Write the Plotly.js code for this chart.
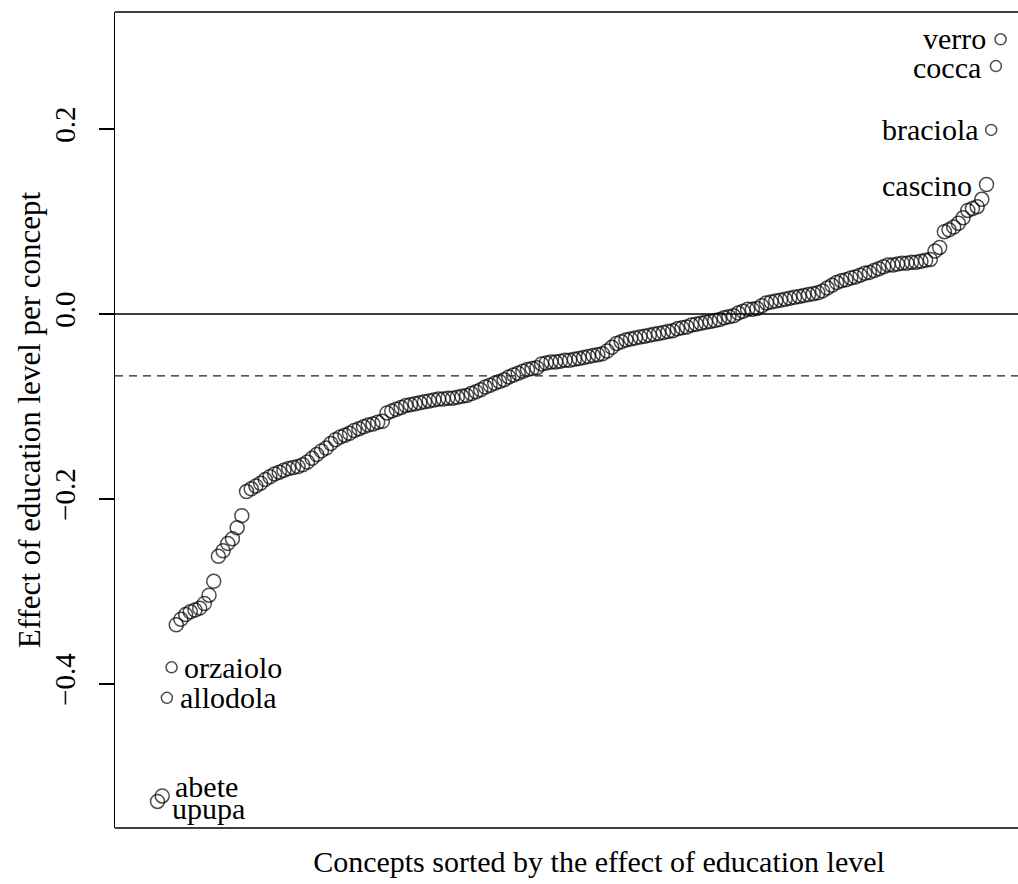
<!DOCTYPE html>
<html>
<head>
<meta charset="utf-8">
<script src="https://cdn.plot.ly/plotly-3.0.1.min.js"></script>
<style>
html,body{margin:0;padding:0;overflow:hidden;background:#fff;}
#chart{width:1083px;height:884px;}
</style>
</head>
<body>
<div id="chart"></div>
<script>
// Effect of education level per concept, sorted ascending
const effects = [
-0.527,-0.521,-0.415,-0.382,-0.336,-0.330,-0.325,-0.322,-0.320,-0.318,
-0.313,-0.304,-0.289,-0.262,-0.256,-0.248,-0.243,-0.231,-0.218,-0.192,
-0.189,-0.186,-0.183,-0.179,-0.176,-0.173,-0.171,-0.169,-0.167,-0.166,
-0.165,-0.163,-0.160,-0.156,-0.152,-0.148,-0.145,-0.140,-0.136,-0.133,
-0.131,-0.129,-0.126,-0.124,-0.122,-0.120,-0.119,-0.117,-0.116,-0.107,
-0.105,-0.103,-0.101,-0.099,-0.098,-0.097,-0.096,-0.095,-0.094,-0.093,
-0.092,-0.092,-0.091,-0.091,-0.090,-0.089,-0.088,-0.086,-0.084,-0.082,
-0.079,-0.077,-0.075,-0.073,-0.071,-0.068,-0.066,-0.064,-0.062,-0.060,
-0.059,-0.058,-0.054,-0.053,-0.052,-0.052,-0.051,-0.050,-0.050,-0.049,
-0.048,-0.047,-0.046,-0.045,-0.044,-0.043,-0.040,-0.036,-0.032,-0.030,
-0.028,-0.027,-0.026,-0.025,-0.024,-0.023,-0.022,-0.021,-0.020,-0.019,
-0.018,-0.016,-0.015,-0.014,-0.012,-0.011,-0.010,-0.009,-0.008,-0.007,
-0.006,-0.004,-0.003,-0.002,0.001,0.003,0.005,0.005,0.006,0.009,
0.012,0.013,0.014,0.015,0.016,0.017,0.018,0.019,0.020,0.021,
0.022,0.023,0.025,0.028,0.031,0.034,0.036,0.037,0.039,0.040,
0.042,0.044,0.045,0.047,0.049,0.051,0.053,0.053,0.054,0.055,
0.055,0.056,0.056,0.057,0.058,0.059,0.068,0.072,0.089,0.091,
0.094,0.098,0.104,0.112,0.114,0.116,0.124,0.140,0.199,0.268,
0.297
];
const ranks = effects.map((v, i) => i + 1);

const labelNames = ['upupa','abete','allodola','orzaiolo','cascino','braciola','cocca','verro'];
const labelRanks = [1, 2, 3, 4, 178, 179, 180, 181];
const smallRanks = [3, 4, 179, 180, 181];
const meanEffect = -0.067;
const yTicks = [-0.4, -0.2, 0.0, 0.2];
const yTickText = ['\u22120.4', '\u22120.2', '0.0', '0.2'];

// label styling (offsets in px)
const labelSide = ['left','left','left','left','right','right','right','right'];
const labelXShift = [13, 12, 12, 11, -14, -11, -14, -14];
const labelYShift = [-7, 9, 0, 0, -1, 0, -1, 1];

const serif = 'Liberation Serif, Times New Roman, serif';

const sizes = ranks.map(r => smallRanks.includes(r) ? 11 : 14);

const trace = {
  x: ranks, y: effects, type: 'scatter', mode: 'markers',
  marker: {symbol: 'circle-open', size: sizes, color: '#000', line: {color: '#000', width: 1.5}},
  hoverinfo: 'skip'
};

const annotations = labelNames.map((name, k) => {
  const r = labelRanks[k];
  const left = labelSide[k] === 'left';
  return {
    x: r, y: effects[r - 1], xref: 'x', yref: 'y', text: name, showarrow: false,
    xanchor: left ? 'left' : 'right', yanchor: 'middle',
    xshift: labelXShift[k], yshift: labelYShift[k], borderpad: 0,
    font: {family: serif, size: 30, color: '#000'}
  };
});

const layout = {
  width: 1083, height: 884,
  margin: {l: 115, r: 0, t: 12, b: 56, pad: 0},
  paper_bgcolor: '#fff', plot_bgcolor: '#fff',
  showlegend: false,
  font: {family: serif, size: 30, color: '#000'},
  xaxis: {
    range: [-8.08, 198.6], showgrid: false, zeroline: false, showticklabels: false,
    ticks: '', showline: false,
    title: {text: 'Concepts sorted by the effect of education level', font: {family: serif, size: 30, color: '#000'}, standoff: 22}
  },
  yaxis: {
    range: [-0.5557, 0.3265], showgrid: false, zeroline: false,
    tickvals: yTicks, ticktext: yTickText, tickangle: -90,
    ticks: 'outside', ticklen: 15, tickwidth: 1.4, tickcolor: '#000',
    ticklabelstandoff: 12,
    tickfont: {family: serif, size: 29, color: '#000'},
    showline: true, linecolor: '#000', linewidth: 1.4,
    title: {text: 'Effect of education level per concept', font: {family: serif, size: 31, color: '#000'}}
  },
  shapes: [
    {type: 'line', xref: 'paper', yref: 'paper', x0: 0, x1: 1, y0: 1, y1: 1, line: {color: '#000', width: 1.4}},
    {type: 'line', xref: 'paper', yref: 'paper', x0: 0, x1: 1, y0: 0, y1: 0, line: {color: '#000', width: 1.4}},
    {type: 'line', xref: 'paper', yref: 'y', x0: 0, x1: 1, y0: 0, y1: 0, line: {color: '#000', width: 1.4}},
    {type: 'line', xref: 'paper', yref: 'y', x0: 0, x1: 1, y0: meanEffect, y1: meanEffect, line: {color: '#222', width: 1.2, dash: '8px,6px'}}
  ],
  annotations: annotations
};

Plotly.newPlot('chart', [trace], layout, {staticPlot: true, displayModeBar: false});
</script>
</body>
</html>
